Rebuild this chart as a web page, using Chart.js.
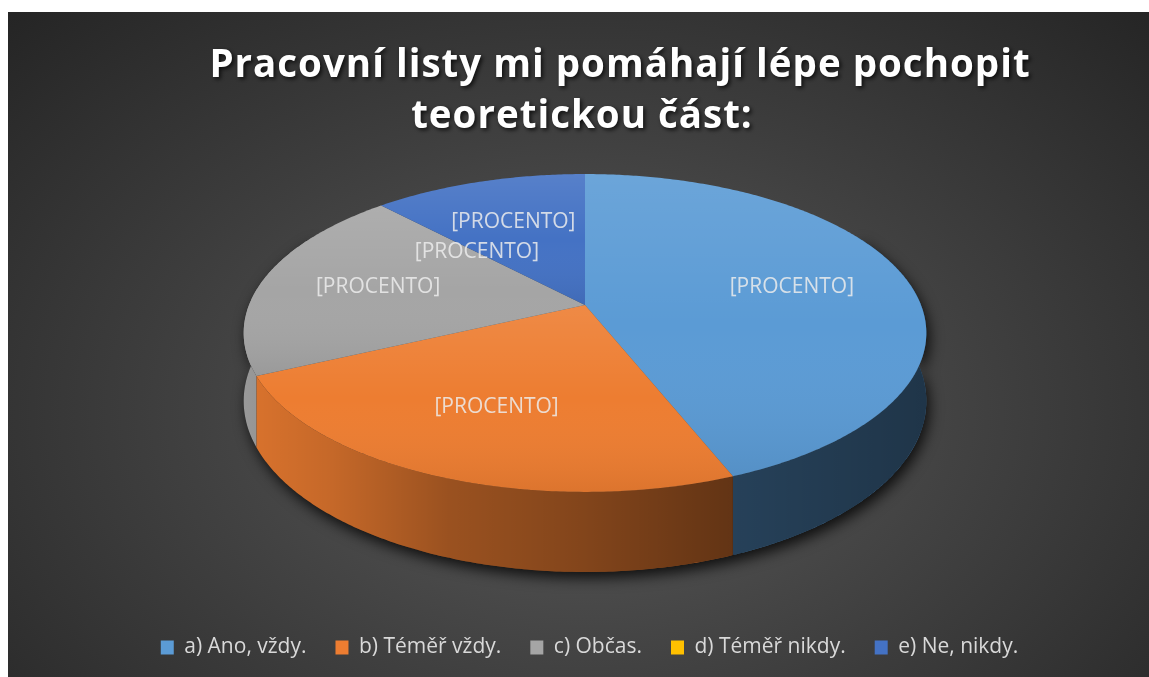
<!DOCTYPE html>
<html>
<head>
<meta charset="utf-8">
<script src="https://cdn.jsdelivr.net/npm/chart.js@4.4.1/dist/chart.umd.min.js"></script>
<style>
  html, body { margin: 0; padding: 0; background: #fff; }
  #wrap { position: absolute; left: 8px; top: 12px; width: 1141px; height: 665px; }
</style>
</head>
<body>
<div id="wrap"><canvas id="chart"></canvas></div>
<script>
// answers from the survey question
const categories = ['a) Ano, vždy.', 'b) Téměř vždy.', 'c) Občas.', 'd) Téměř nikdy.', 'e) Ne, nikdy.'];
const answers = [11, 6, 5, 0, 3];
const sliceColors = ['#5b9bd5', '#ed7d31', '#a5a5a5', '#ffc000', '#4472c4'];
const dataLabel = '[PROCENTO]';
const titleLines = ['Pracovní listy mi pomáhají lépe pochopit', 'teoretickou část:'];

// 3d look (canvas coords)
const geo = { cx: 577, cy: 293, sx: 336, sy: 154, persp: -0.176, depth: 66 };
const STEP = 0.01;

function project(a, r) {
    const u = r * Math.cos(a), v = r * Math.sin(a);
    const k = 1 / (1 + geo.persp * v);
    return [geo.cx + geo.sx * u * k, geo.cy + geo.sy * v * k];
}

function projectBase(a) {
    const p = project(a, 1);
    const k = 1 / (1 + geo.persp * Math.sin(a));
    return [p[0], p[1] + geo.depth * k];
}

function topPath(ctx, a0, a1) {
    ctx.beginPath();
    ctx.moveTo(geo.cx, geo.cy);
    for (let a = a0; a < a1; a += STEP) ctx.lineTo(...project(a, 1));
    ctx.lineTo(...project(a1, 1));
    ctx.closePath();
}

function wallPath(ctx, a0, a1) {
    ctx.moveTo(...project(a0, 1));
    for (let a = a0; a < a1; a += STEP) ctx.lineTo(...project(a, 1));
    ctx.lineTo(...project(a1, 1));
    for (let a = a1; a > a0; a -= STEP) ctx.lineTo(...projectBase(a));
    ctx.lineTo(...projectBase(a0));
    ctx.closePath();
}

function labelPos(a0, a1) {
    // empty slices get their label a bit closer to the middle
    const r = (a1 - a0 < 1e-4) ? 0.5 : 0.64;
    return project((a0 + a1) / 2, r);
}

const background = {
    id: 'background',
    beforeDraw(chart) {
        const { ctx } = chart;
        ctx.save();
        ctx.translate(577, 400);
        ctx.scale(1.45, 1);
        const g = ctx.createRadialGradient(0, 0, 0, 0, 0, 560);
        g.addColorStop(0, '#5b5b5b');
        g.addColorStop(0.55, '#3d3d3d');
        g.addColorStop(1, '#252525');
        ctx.fillStyle = g;
        ctx.fillRect(-600, -500, 1200, 1000);
        ctx.restore();
    }
};

const pie3d = {
    id: 'pie3d',
    beforeDatasetsDraw(chart) {
        const ctx = chart.ctx;
        const arcs = chart.getDatasetMeta(0).data;
        const lo = -0.5, hi = Math.PI + 0.5;

        // shadow under the side wall
        ctx.save();
        ctx.shadowColor = 'rgba(0,0,0,0.8)';
        ctx.shadowBlur = 14;
        ctx.shadowOffsetX = 3;
        ctx.shadowOffsetY = 6;
        ctx.fillStyle = '#1a1a1a';
        ctx.beginPath();
        wallPath(ctx, lo, hi);
        ctx.fill();
        ctx.restore();

        // side walls
        arcs.forEach((arc, i) => {
            const a0 = Math.max(arc.startAngle, lo), a1 = Math.min(arc.endAngle, hi);
            if (a1 <= a0) return;
            ctx.beginPath();
            wallPath(ctx, a0, a1);
            ctx.fillStyle = sliceColors[i];
            ctx.fill();
        });
        const shade = ctx.createLinearGradient(235, 0, 918, 0);
        shade.addColorStop(0, 'rgba(0,0,0,0.08)');
        shade.addColorStop(0.13, 'rgba(0,0,0,0.17)');
        shade.addColorStop(0.3, 'rgba(0,0,0,0.35)');
        shade.addColorStop(0.5, 'rgba(0,0,0,0.45)');
        shade.addColorStop(0.71, 'rgba(0,0,0,0.58)');
        shade.addColorStop(1, 'rgba(0,0,0,0.66)');
        ctx.beginPath();
        wallPath(ctx, lo, hi);
        ctx.fillStyle = shade;
        ctx.fill();

        // top faces
        arcs.forEach((arc, i) => {
            if (arc.endAngle - arc.startAngle < 1e-4) return;
            topPath(ctx, arc.startAngle, arc.endAngle);
            ctx.fillStyle = sliceColors[i];
            ctx.fill();
            let y0 = geo.cy, y1 = geo.cy;
            for (let a = arc.startAngle; a <= arc.endAngle; a += STEP) {
                const p = project(a, 1);
                y0 = Math.min(y0, p[1]); y1 = Math.max(y1, p[1]);
            }
            const g = ctx.createLinearGradient(0, y0, 0, y1);
            g.addColorStop(0, 'rgba(255,255,255,0.1)');
            g.addColorStop(0.5, 'rgba(255,255,255,0)');
            g.addColorStop(1, 'rgba(0,0,0,0.07)');
            ctx.fillStyle = g;
            ctx.fill();
        });

        // data labels
        ctx.save();
        ctx.font = "21px 'Open Sans'";
        ctx.fillStyle = 'rgba(236,236,236,0.85)';
        ctx.textAlign = 'center';
        ctx.textBaseline = 'middle';
        arcs.forEach((arc) => {
            const [x, y] = labelPos(arc.startAngle, arc.endAngle);
            ctx.fillText(dataLabel, x, y);
        });
        ctx.restore();
        return false;
    }
};

const chartTitle = {
    id: 'chartTitle',
    afterDraw(chart) {
        const ctx = chart.ctx;
        ctx.save();
        ctx.letterSpacing = '1px';
        ctx.font = "bold 40px 'Open Sans'";
        const size = 40 * 820 / ctx.measureText(titleLines[0]).width;
        ctx.font = 'bold ' + size.toFixed(1) + "px 'Open Sans'";
        ctx.fillStyle = '#ffffff';
        ctx.textAlign = 'center';
        ctx.textBaseline = 'alphabetic';
        ctx.shadowColor = 'rgba(0,0,0,0.75)';
        ctx.shadowBlur = 4;
        ctx.shadowOffsetX = 2;
        ctx.shadowOffsetY = 2;
        ctx.fillText(titleLines[0], 612, 65);
        ctx.fillText(titleLines[1], 574, 116);
        ctx.restore();
    }
};

new Chart(document.getElementById('chart'), {
    type: 'pie',
    data: {
        labels: categories,
        datasets: [{
            data: answers,
            backgroundColor: sliceColors,
            borderWidth: 0
        }]
    },
    options: {
        responsive: true,
        maintainAspectRatio: false,
        animation: false,
        layout: { padding: { left: 22, right: 0, top: 150, bottom: 9 } },
        plugins: {
            tooltip: { enabled: false },
            legend: {
                position: 'bottom',
                labels: {
                    color: '#d9d9d9',
                    font: { family: 'Open Sans', size: 21 },
                    boxWidth: 13,
                    boxHeight: 14,
                    padding: 29
                }
            }
        }
    },
    plugins: [background, pie3d, chartTitle]
});
</script>
</body>
</html>
